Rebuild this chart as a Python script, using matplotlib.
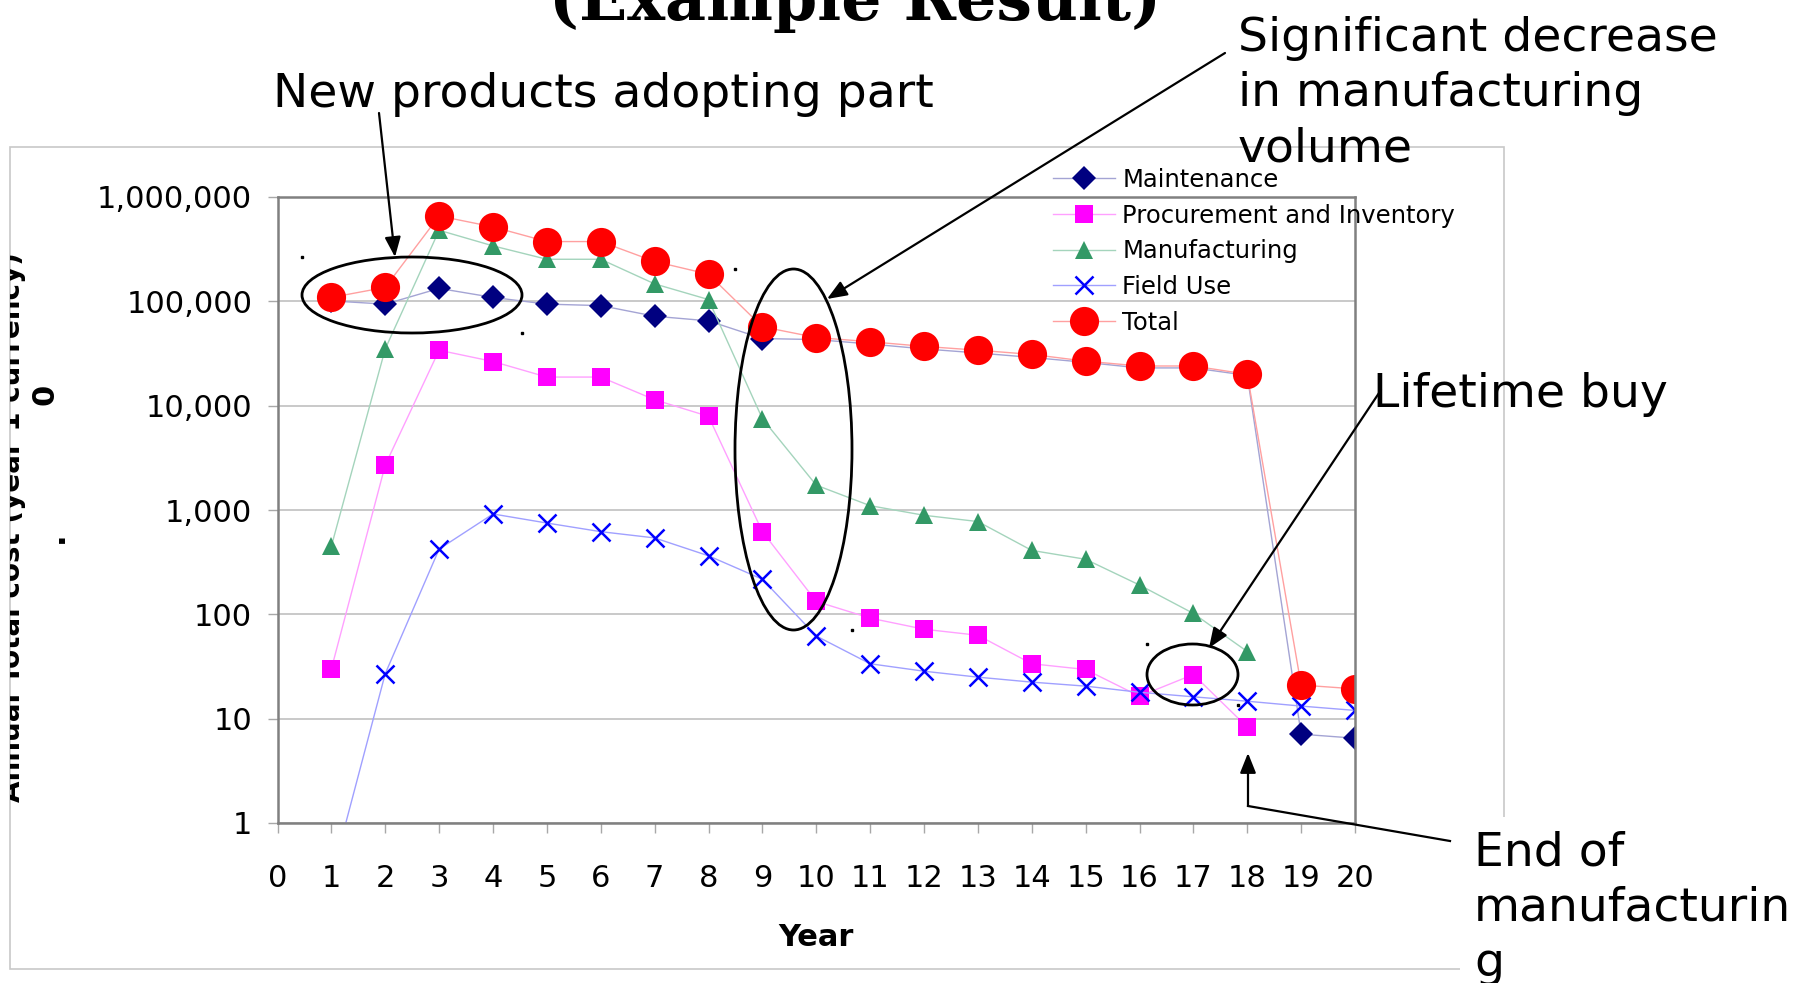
import numpy as np
import matplotlib
matplotlib.use("Agg")
import matplotlib.pyplot as plt
from matplotlib.patches import Ellipse, Rectangle, FancyArrowPatch
from matplotlib.lines import Line2D
from matplotlib.ticker import FuncFormatter, NullLocator
from matplotlib.transforms import Bbox, TransformedBbox

W, H = 1798, 983

years = list(range(1, 21))
maintenance = [101000, 94000, 133000, 109000, 94000, 91000, 72000, 65000, 44000, 43000,
               39000, 35000, 32000, 29000, 26000, 23000, 23000, 19500, 7.1, 6.5]
procurement = [30, 2700, 34000, 26500, 18800, 18800, 11400, 7900, 620, 133,
               92, 72, 63, 33.6, 29.6, 16.4, 26.5, 8.3, np.nan, np.nan]
manufacturing = [450, 35000, 480000, 340000, 253000, 253000, 147000, 104000, 7500, 1730,
                 1100, 890, 775, 410, 337, 191, 102, 44, np.nan, np.nan]
field_use = [0.3, 27, 422, 916, 750, 620, 540, 364, 217, 62,
             33.6, 28.5, 25, 22.4, 20.5, 17.9, 16.2, 14.7, 13.2, 12]
total = [109000, 136000, 658000, 517000, 374000, 374000, 241000, 182000, 57000, 45000,
         41000, 37000, 34000, 31000, 26700, 24000, 24000, 20000, 21, 19.3]

# label, values, marker, marker colour, line colour, marker size
series = [
    ("Maintenance", maintenance, "D", "#000080", "#a4a4d4", 12),
    ("Procurement and Inventory", procurement, "s", "#ff00ff", "#ffa0ff", 13),
    ("Manufacturing", manufacturing, "^", "#339966", "#a4d4bc", 13.5),
    ("Field Use", field_use, "x", "#0000ff", "#a0a0ff", 13.5),
    ("Total", total, "o", "#ff0000", "#ffa0a0", 21),
]


def fpx(x, y):
    # pixel position measured from the top-left corner -> figure fraction
    return x / W, 1 - y / H


fig = plt.figure(figsize=(W / 100, H / 100), dpi=100)
fig.patch.set_facecolor("white")

# outer chart frame
fig.add_artist(Rectangle(fpx(10, 969), 1494 / W, 822 / H, transform=fig.transFigure,
                         fill=False, ec="#c8c8c8", lw=1.2, zorder=1))

ax = fig.add_axes([277.5 / W, 1 - 823 / H, (1355 - 277.5) / W, (823 - 197) / H])
for label, vals, mk, mc, lc, ms in series:
    ax.plot(years, vals, color=lc, lw=1, marker=mk, ms=ms, mfc=mc, mec=mc,
            mew=1.8 if mk == "x" else 0, label=label)

ax.set_yscale("log")
ax.set_ylim(1, 1e6)
ax.set_xlim(0, 20)
ax.set_xticks(range(0, 21))
ax.set_yticks([1, 10, 100, 1000, 10000, 100000, 1000000])
ax.yaxis.set_minor_locator(NullLocator())
ax.yaxis.set_major_formatter(FuncFormatter(lambda v, p: f"{v:,.0f}"))
ax.grid(axis="y", color="#c0c0c0", lw=1.2)
ax.set_axisbelow(True)
for s in ax.spines.values():
    s.set_color("#808080")
    s.set_linewidth(1.8)
ax.tick_params(axis="both", direction="out", length=7.2, width=1, color="#a8a8a8",
               labelsize=22)
ax.tick_params(axis="y", pad=11)
ax.tick_params(axis="x", pad=22)
ax.set_xlabel("Year", fontsize=22, fontweight="bold", labelpad=22)

ax.legend(loc="upper left", bbox_to_anchor=fpx(1053, 168), bbox_transform=fig.transFigure,
          frameon=False, fontsize=17.5, handlelength=2.55, handletextpad=0.3,
          labelspacing=0.48, borderpad=0, borderaxespad=0)

# y label, cut off by the chart frame on the left
yl = fig.text(*fpx(26, 527), "Annual Total cost (year 1 currency)", rotation=90,
              ha="right", va="center", fontsize=20, fontweight="bold")
yl.set_clip_box(TransformedBbox(Bbox.from_extents(10 / W, 0, 1, 1), fig.transFigure))
yl.set_clip_on(True)
fig.text(*fpx(45, 394), "0", rotation=90, ha="center", va="center",
         fontsize=22, fontweight="bold")
fig.text(*fpx(54, 537), ".", rotation=90, ha="center", va="center",
         fontsize=22, fontweight="bold")

fig.text(*fpx(855, 20), "(Example Result)", ha="center", va="baseline",
         fontfamily="DejaVu Serif", fontweight="bold", fontsize=45.5)

# callout ellipses (centre x, centre y, width, height in pixels)
ellipses = [(412, 295, 220, 76), (793.5, 449.5, 117, 361), (1192.5, 674.5, 91, 61)]
for cx, cy, w, h in ellipses:
    fig.add_artist(Ellipse(fpx(cx, cy), w / W, h / H, transform=fig.transFigure,
                           fill=False, ec="black", lw=2, zorder=6))
    for px, py in [(cx - w / 2, cy - h / 2), (cx + w / 2, cy + h / 2)]:
        fig.add_artist(Line2D([px / W], [1 - py / H], marker="s", ms=1.6, color="black",
                              transform=fig.transFigure, zorder=6))

arrow_kw = dict(arrowstyle="-|>,head_length=0.55,head_width=0.22", mutation_scale=22,
                lw=1.6, color="black", shrinkA=0, shrinkB=0, transform=fig.transFigure,
                zorder=6)
fig.add_artist(FancyArrowPatch(fpx(379, 113), fpx(395, 257), **arrow_kw))
fig.add_artist(FancyArrowPatch(fpx(1225, 53), fpx(827, 299), **arrow_kw))
fig.add_artist(FancyArrowPatch(fpx(1381, 390), fpx(1209, 648), **arrow_kw))
fig.add_artist(Line2D([1450 / W, 1248 / W], [1 - 841 / H, 1 - 806 / H], lw=1.6,
                      color="black", transform=fig.transFigure, zorder=6))
fig.add_artist(FancyArrowPatch(fpx(1248, 806), fpx(1248, 753), **arrow_kw))

# multi-line notes are anchored on the baseline of their last line
note_kw = dict(fontsize=34, ha="left", va="baseline", linespacing=1.29, zorder=7)
fig.text(*fpx(273, 107), "New products adopting part", **note_kw)
fig.text(*fpx(1238, 161), "Significant decrease\nin manufacturing\nvolume", **note_kw)
fig.text(*fpx(1373, 407), "Lifetime buy", **note_kw)
fig.text(*fpx(1474, 976), "End of\nmanufacturin\ng",
         bbox=dict(boxstyle="square,pad=0.3", fc="white", ec="none"), **note_kw)

fig.savefig("out.png", dpi=100)
